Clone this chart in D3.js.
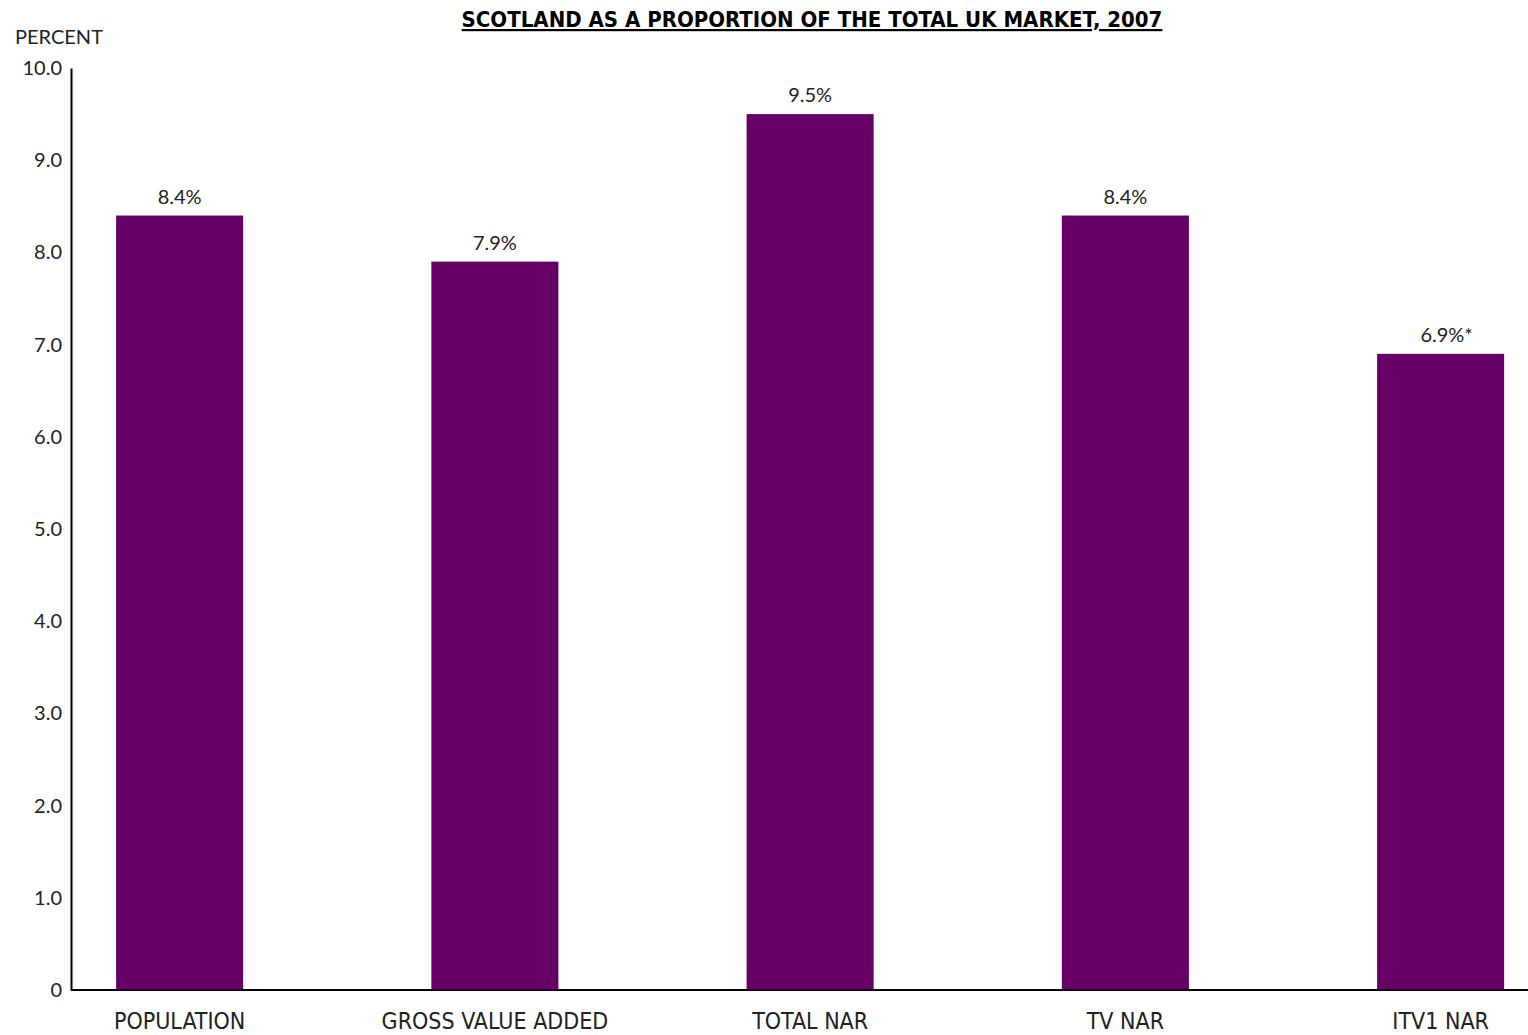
<!DOCTYPE html>
<html>
<head>
<meta charset="utf-8">
<script src="https://cdn.jsdelivr.net/npm/d3@7"></script>
<style>
  html, body { margin: 0; padding: 0; background: #fff; }
  svg { display: block; }
</style>
</head>
<body>
<svg id="chart" width="1528" height="1035"></svg>
<script>
// Scotland's share of UK totals, 2007 (percent)
const categories = ["POPULATION", "GROSS VALUE ADDED", "TOTAL NAR", "TV NAR", "ITV1 NAR"];
const shares = [8.4, 7.9, 9.5, 8.4, 6.9];
const valueLabels = ["8.4%", "7.9%", "9.5%", "8.4%", "6.9%*"];
const yTicks = [0, 1, 2, 3, 4, 5, 6, 7, 8, 9, 10];

const svg = d3.select("#chart");
const barColor = "#660066";
const valueFont = "Lato, 'Open Sans', sans-serif";
const catFont = "'Liberation Sans Narrow', 'DejaVu Sans Condensed', sans-serif";

const y = d3.scaleLinear().domain([0, 10]).range([990, 68]);

const step = 315.25;
const x = d3.scaleBand()
  .domain(categories)
  .range([22, 22 + step * categories.length])
  .paddingInner(0.597)
  .paddingOuter(0.597 / 2);

// title
svg.append("text")
  .attr("x", 812).attr("y", 27)
  .attr("text-anchor", "middle")
  .attr("font-family", catFont)
  .attr("font-weight", "bold")
  .attr("font-size", 22)
  .attr("text-decoration", "underline")
  .attr("fill", "#000")
  .text("SCOTLAND AS A PROPORTION OF THE TOTAL UK MARKET, 2007");

// axis caption
svg.append("text")
  .attr("x", 15).attr("y", 44)
  .attr("font-family", valueFont)
  .attr("font-size", 20)
  .attr("fill", "#222")
  .text("PERCENT");

// bars
svg.append("g").selectAll("rect")
  .data(shares)
  .join("rect")
  .attr("x", (d, i) => x(categories[i]))
  .attr("width", x.bandwidth())
  .attr("y", d => y(d))
  .attr("height", d => y(0) - y(d))
  .attr("fill", barColor);

// value labels
svg.append("g").selectAll("text")
  .data(shares)
  .join("text")
  .attr("x", (d, i) => x(categories[i]) + x.bandwidth() / 2 + (i === 4 ? 6 : 0))
  .attr("y", d => y(d) - 12)
  .attr("text-anchor", "middle")
  .attr("font-family", valueFont)
  .attr("font-size", 20)
  .attr("fill", "#222")
  .text((d, i) => valueLabels[i]);

// y axis
const yAxis = d3.axisLeft(y)
  .tickValues(yTicks)
  .tickSize(0)
  .tickPadding(9)
  .tickFormat(d => d === 0 ? "0" : d3.format(".1f")(d));
const gy = svg.append("g").attr("transform", "translate(71,0)").call(yAxis);
gy.select(".domain").attr("stroke", "#000").attr("stroke-width", 2);
gy.selectAll("text")
  .attr("font-family", valueFont)
  .attr("font-size", 20)
  .attr("fill", "#222");

// x axis
const xAxis = d3.axisBottom(x).tickSize(0).tickPadding(23).tickSizeOuter(0);
const gx = svg.append("g").attr("transform", "translate(0,990)").call(xAxis);
gx.select(".domain").remove();
gx.selectAll("text")
  .attr("font-family", catFont)
  .attr("font-size", 23)
  .attr("fill", "#222");
svg.append("line")
  .attr("x1", 71).attr("x2", 1528)
  .attr("y1", 990).attr("y2", 990)
  .attr("stroke", "#000").attr("stroke-width", 2);
</script>
</body>
</html>
